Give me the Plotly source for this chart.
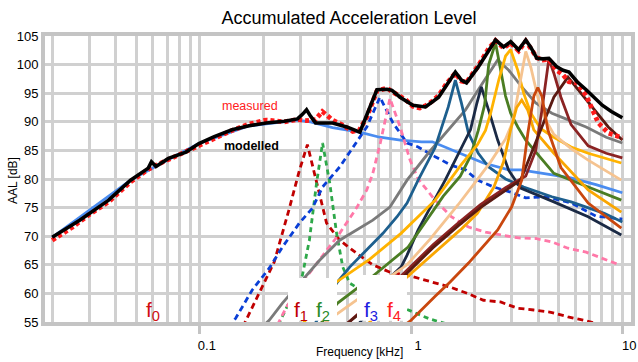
import plotly.graph_objects as go

# Frequencies in kHz, levels in dB

f_modelled = [0.02, 0.027, 0.037, 0.047, 0.057, 0.059, 0.062, 0.071, 0.086, 0.099, 0.117, 0.142, 0.171, 0.206,
              0.251, 0.29, 0.306, 0.32, 0.334, 0.353, 0.425, 0.496, 0.572, 0.617, 0.689, 0.769, 0.812, 0.887,
              0.936, 1.02, 1.17, 1.26, 1.35, 1.48, 1.62, 1.73, 1.83, 2.08, 2.33, 2.51, 2.74, 2.96, 3.23, 3.49,
              3.69, 3.94, 4.21, 4.49, 4.9, 5.24, 5.59, 6.11, 6.74, 7.36, 8.03, 8.87, 10.0]
aal_modelled = [69.8, 72.8, 76.3, 79.8, 81.9, 83.0, 82.2, 83.6, 84.7, 86.2, 87.4, 88.6, 89.3, 89.8,
                90.1, 90.5, 91.3, 92.1, 91.0, 89.8, 89.8, 89.1, 88.2, 91.2, 95.6, 95.7, 95.5, 94.3,
                93.8, 92.9, 92.6, 93.5, 94.3, 96.5, 98.7, 97.3, 96.8, 99.6, 102.5, 104.3, 103.1, 104.0, 102.6, 104.3,
                103.0, 101.1, 101.0, 101.1, 99.6, 99.0, 98.7, 97.0, 95.6, 94.2, 92.9, 91.8, 90.7]

f_measured = [0.02, 0.025, 0.03, 0.037, 0.047, 0.057, 0.062, 0.071, 0.086, 0.099, 0.117, 0.142, 0.171, 0.206,
              0.251, 0.29, 0.32, 0.353, 0.38, 0.40, 0.425, 0.47, 0.53, 0.57, 0.617, 0.689, 0.77, 0.81, 0.89,
              0.94, 1.02, 1.1, 1.17, 1.26, 1.35, 1.48, 1.62, 1.73, 1.83, 2.08, 2.33, 2.51, 2.74, 2.96, 3.23,
              3.49, 3.69, 3.94, 4.21, 4.49, 4.9, 5.24, 5.59, 6.11, 6.74, 7.0, 7.7, 8.6, 10.0]
aal_measured = [69.3, 71.6, 73.8, 76.0, 79.5, 81.7, 82.4, 83.4, 84.8, 86.0, 87.3, 88.5, 89.6, 90.3,
                90.0, 90.4, 90.2, 90.4, 91.8, 91.0, 90.3, 89.5, 88.3, 88.6, 90.8, 95.4, 95.9, 95.3, 94.5,
                93.9, 92.7, 92.4, 92.8, 93.6, 94.6, 96.8, 98.5, 97.1, 96.9, 99.8, 102.8, 104.2, 102.9, 103.8, 102.4,
                104.1, 102.8, 101.2, 100.8, 100.9, 99.0, 98.2, 97.0, 96.8, 94.6, 93.3, 89.8, 88.0, 87.2]

# Component curves
f_base = [0.02, 0.047, 0.071, 0.099, 0.171, 0.251, 0.29, 0.334, 0.425, 0.57, 0.71, 0.89, 1.12, 1.26, 1.45,
          1.7, 2.2, 2.9, 3.3, 4.5, 5.7, 7.5, 10.0]
aal_base = [69.8, 79.8, 83.4, 86.2, 89.3, 90.1, 90.3, 90.0, 89.0, 88.2, 87.3, 86.8, 86.5, 86.5, 85.6,
            84.5, 82.8, 81.6, 81.6, 80.8, 80.2, 79.0, 77.6]

f_f1 = [0.16, 0.197, 0.225, 0.265, 0.296, 0.323, 0.357, 0.398, 0.459, 0.553, 0.659, 0.794, 0.957, 1.27,
        1.53, 1.85, 2.2, 2.65, 3.2, 3.81, 4.59, 5.53, 6.59, 7.94]
aal_f1 = [54.2, 61.0, 65.5, 74.8, 81.5, 86.0, 79.3, 72.3, 69.3, 67.0, 65.0, 63.7, 63.2, 62.0,
          61.1, 60.0, 58.8, 58.5, 57.4, 57.1, 56.7, 55.9, 55.3, 54.5]

f_f2 = [0.235, 0.246, 0.306, 0.33, 0.357, 0.381, 0.412, 0.444, 0.475, 0.512, 0.674, 0.957, 1.23, 1.53]
aal_f2 = [54.5, 56.0, 63.2, 69.3, 79.3, 86.3, 79.3, 70.5, 64.6, 61.8, 59.0, 57.2, 55.5, 54.5]

f_f3 = [0.137, 0.148, 0.177, 0.213, 0.246, 0.296, 0.341, 0.381, 0.459, 0.53, 0.617, 0.712, 0.821, 0.957,
        1.08, 1.3, 1.55, 1.81, 2.06, 2.46, 2.96, 3.49, 4.35, 5.72, 7.52, 10.0]
aal_f3 = [54.0, 55.7, 60.6, 64.4, 68.1, 72.3, 74.9, 78.6, 82.1, 85.6, 89.1, 94.3, 89.8, 86.3,
          85.6, 83.9, 82.4, 81.6, 79.8, 78.6, 77.7, 76.7, 76.9, 75.8, 73.5, 73.0]

f_f4 = [0.233, 0.257, 0.32, 0.459, 0.553, 0.617, 0.659, 0.712, 0.794, 0.887, 0.989, 1.08, 1.3, 1.55,
        1.87, 2.25, 2.68, 3.23, 3.89, 4.64, 5.53, 6.74, 9.68]
aal_f4 = [54.5, 57.6, 62.9, 70.5, 75.0, 78.1, 81.0, 86.0, 94.1, 89.1, 83.3, 80.0, 76.3, 73.4,
          71.6, 70.7, 70.2, 69.7, 69.6, 69.0, 67.9, 67.2, 65.0]

f_gray = [0.195, 0.213, 0.246, 0.306, 0.369, 0.459, 0.553, 0.659, 0.794, 0.957, 1.205, 1.55, 1.81, 2.08,
          2.33, 2.57, 2.9, 3.34, 3.89, 4.64, 5.59, 6.74, 8.39, 10.0]
aal_gray = [54.0, 55.3, 58.3, 62.3, 65.8, 69.3, 71.1, 72.8, 75.1, 79.8, 84.5, 89.1, 92.1, 95.6,
            98.5, 100.8, 99.0, 96.1, 93.3, 91.5, 90.3, 89.1, 87.3, 86.3]

f_teal = [0.349, 0.444, 0.512, 0.617, 0.736, 0.858, 0.957, 1.08, 1.3, 1.5, 1.62, 1.73, 1.87, 2.08, 2.33,
          2.8, 3.41, 4.64, 5.72, 8.21, 10.0]
aal_teal = [54.5, 61.8, 64.6, 67.6, 70.5, 73.4, 75.8, 79.8, 85.5, 92.6, 97.3, 93.3, 88.0, 84.5, 82.1,
            80.0, 78.6, 76.9, 76.0, 74.0, 72.5]

f_navy = [0.56, 0.604, 0.769, 0.896, 0.957, 1.08, 1.45, 1.91, 2.04, 2.15, 2.38, 2.57, 2.9, 3.3, 4.74,
          6.89, 9.89]
aal_navy = [54.5, 56.0, 62.3, 64.6, 66.7, 71.1, 79.8, 88.6, 93.0, 96.1, 90.9, 86.8, 81.5, 78.4, 76.0,
            73.4, 70.2]

f_olive = [0.369, 0.449, 0.624, 0.968, 1.42, 1.71, 1.91, 2.08, 2.23, 2.33, 2.51, 2.65, 2.8, 2.96, 3.2,
           3.49, 4.74, 6.89, 9.89]
aal_olive = [54.5, 58.3, 62.3, 68.1, 77.0, 80.5, 84.0, 88.5, 93.0, 100.0, 103.8, 99.5, 94.5, 91.5, 89.1,
             86.8, 81.0, 78.6, 76.3]

f_gold = [0.296, 0.444, 0.638, 0.896, 1.3, 1.71, 2.06, 2.25, 2.38, 2.6, 2.8, 2.96, 3.2, 3.41, 3.69,
          4.11, 4.74, 5.72, 6.89, 9.89]
aal_gold = [54.0, 62.0, 66.0, 70.5, 76.3, 82.3, 86.0, 88.5, 91.5, 97.3, 101.5, 102.6, 99.0, 95.0, 91.5,
            88.8, 87.3, 85.6, 84.5, 82.8]

f_tan = [0.38, 0.412, 0.638, 0.957, 1.23, 1.67, 2.02, 2.38, 2.8, 3.03, 3.23, 3.49, 3.69, 3.98, 4.25,
         4.74, 5.72, 6.89, 9.89]
aal_tan = [54.5, 55.5, 60.5, 65.0, 69.5, 75.5, 79.5, 83.0, 87.0, 90.0, 95.5, 102.3, 99.5, 94.3, 90.9,
           87.8, 85.3, 83.3, 79.8]

f_amber = [0.62, 0.712, 0.887, 1.23, 1.71, 2.06, 2.46, 2.74, 2.96, 3.16, 3.34, 3.57, 3.81, 4.74, 6.89, 9.89]
aal_amber = [54.5, 57.0, 61.8, 66.5, 71.1, 74.0, 78.5, 83.0, 88.6, 92.5, 93.8, 92.0, 88.6, 84.5, 78.1, 74.2]

f_maroon = [0.49, 0.867, 1.27, 1.67, 2.13, 2.8, 3.49, 3.89, 4.16, 4.49, 4.74, 5.12, 5.72, 6.89, 8.39, 10.0]
aal_maroon = [54.5, 62.5, 68.5, 72.3, 75.5, 78.5, 80.5, 85.0, 92.0, 101.0, 98.5, 94.3, 89.5, 85.8, 84.5, 83.7]

f_brown = [0.49, 0.867, 1.27, 1.67, 2.13, 2.8, 3.3, 4.11, 4.74, 5.53, 6.38, 7.36, 8.58, 10.0]
aal_brown = [54.5, 62.0, 68.0, 71.8, 75.0, 78.0, 79.8, 88.6, 94.3, 97.8, 95.0, 92.1, 89.1, 86.8]

f_rust = [0.936, 1.0, 1.3, 1.53, 1.87, 2.57, 2.99, 3.34, 3.57, 3.81, 3.98, 4.16, 4.44, 5.12, 6.89, 9.89]
aal_rust = [54.5, 55.3, 59.5, 62.0, 65.3, 71.1, 75.1, 79.8, 88.0, 94.5, 96.0, 94.5, 88.6, 82.0, 75.8, 71.4]

components = [
    ("base", "#4a8cf0", "solid", f_base, aal_base),
    ("f1", "#c00000", "6px,4px", f_f1, aal_f1),
    ("f2", "#2ea84a", "5px,4px", f_f2, aal_f2),
    ("f3", "#0a3fd6", "6px,4px", f_f3, aal_f3),
    ("f4", "#ff78a8", "6px,4px", f_f4, aal_f4),
    ("gray", "#7a7a7a", "solid", f_gray, aal_gray),
    ("teal", "#1d5f8e", "solid", f_teal, aal_teal),
    ("navy", "#1b2a45", "solid", f_navy, aal_navy),
    ("olive", "#4b7d23", "solid", f_olive, aal_olive),
    ("gold", "#ffb300", "solid", f_gold, aal_gold),
    ("tan", "#f5c390", "solid", f_tan, aal_tan),
    ("amber", "#f9a602", "solid", f_amber, aal_amber),
    ("maroon", "#8b2323", "solid", f_maroon, aal_maroon),
    ("brown", "#5a1a12", "solid", f_brown, aal_brown),
    ("rust", "#c9470e", "solid", f_rust, aal_rust),
]

FONT = "Liberation Sans, Arial, sans-serif"
GRID = "#d0d0d0"

fig = go.Figure()
for name, color, dash, fx, fy in components:
    fig.add_trace(go.Scatter(x=fx, y=fy, mode="lines", name=name,
                             line=dict(color=color, width=2.8, dash=dash)))

fig.add_trace(go.Scatter(x=f_measured, y=aal_measured, mode="lines", name="measured",
                         line=dict(color="#ff1a1a", width=4.8, dash="4px,3px")))
fig.add_trace(go.Scatter(x=f_modelled, y=aal_modelled, mode="lines", name="modelled",
                         line=dict(color="#000000", width=3.6)))

minor_vals = [m * d for d in (0.01, 0.1, 1.0) for m in range(2, 10)]

fig.update_layout(
    width=638, height=362,
    margin=dict(l=45, r=7, t=36, b=40),
    paper_bgcolor="white", plot_bgcolor="white",
    showlegend=False,
    font=dict(family=FONT, size=13, color="#000"),
    title=dict(text="Accumulated Acceleration Level", x=0.547, xanchor="center",
               y=0.95, yanchor="middle", font=dict(size=18, color="#000")),
    xaxis=dict(type="log", range=[-1.733, 1.041], automargin=False,
               tickmode="array", tickvals=[0.1, 1, 10], ticktext=["0.1", "1", "10"],
               ticks="outside", ticklen=8, tickwidth=3, tickcolor="#c4c4c4",
               ticklabelshift=7,
               showgrid=True, gridcolor=GRID, gridwidth=3,
               minor=dict(tickmode="array", tickvals=minor_vals, showgrid=True,
                          gridcolor=GRID, gridwidth=3, ticks=""),
               showline=True, linecolor="#c4c4c4", linewidth=4, mirror=True,
               zeroline=False, tickfont=dict(size=13)),
    yaxis=dict(range=[55, 105], tick0=55, dtick=5, automargin=False,
               showgrid=True, gridcolor=GRID, gridwidth=3,
               showline=True, linecolor="#c4c4c4", linewidth=4, mirror=True,
               zeroline=False, ticks="", tickfont=dict(size=13)),
)

# white label boxes
for x0, x1, y1 in [(0.4147, 0.4983, 0.1538), (0.5324, 0.6177, 0.1643)]:
    fig.add_shape(type="rect", xref="paper", yref="paper", x0=x0, x1=x1, y0=0.004, y1=y1,
                  fillcolor="white", line=dict(width=0), layer="above")

annotations = [
    dict(text="Frequency [kHz]", x=0.536, y=-0.105, font=dict(size=12)),
    dict(text="AAL [dB]", x=-0.0546, y=0.493, textangle=-90, font=dict(size=12)),
    dict(text="measured", x=0.35, y=0.755, font=dict(size=12.5, color="#ff2020")),
    dict(text="<b>modelled</b>", x=0.353, y=0.615, font=dict(size=12.5, color="#000")),
    dict(text="f<sub>0</sub>", x=0.1843, y=0.038, font=dict(size=21, color="#d01010")),
    dict(text="f<sub>1</sub>", x=0.4369, y=0.038, font=dict(size=21, color="#c00000")),
    dict(text="f<sub>2</sub>", x=0.4744, y=0.038, font=dict(size=21, color="#2a8a2a")),
    dict(text="f<sub>3</sub>", x=0.5563, y=0.038, font=dict(size=21, color="#2020e0")),
    dict(text="f<sub>4</sub>", x=0.5956, y=0.038, font=dict(size=21, color="#ff2020")),
]
for a in annotations:
    fig.add_annotation(xref="paper", yref="paper", showarrow=False,
                       xanchor="center", yanchor="middle", **a)

fig.write_html("out.html")
